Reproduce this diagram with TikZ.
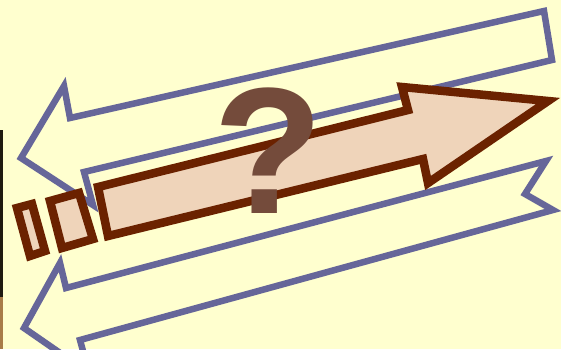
\documentclass[tikz,border=0pt]{standalone}
\usepackage{fontspec}
\setmainfont{Liberation Sans}
\usetikzlibrary{positioning}

\definecolor{bgyellow}{HTML}{FFFFCF}
\definecolor{arrowblue}{HTML}{666699}
\definecolor{darkbrown}{HTML}{6B2200}
\definecolor{lighttan}{HTML}{EFD4BA}
\definecolor{qbrown}{HTML}{744B3B}
\definecolor{edgedark}{HTML}{1E1A10}
\definecolor{edgetan}{HTML}{A87C48}

\tikzset{
  backarrow/.style={draw=arrowblue, line width=6.5pt, line join=miter},
  forwardarrow/.style={draw=darkbrown, fill=lighttan, line width=8.5pt, line join=miter},
  qmark/.style={text=qbrown, inner sep=0pt, font=\fontsize{180}{180}\selectfont\bfseries}
}

\begin{document}
\begin{tikzpicture}[x=1pt, y=-1pt]
    % Khung nen
    \useasboundingbox (0,0) rectangle (561,349);
    \clip (0,0) rectangle (561,349);
    \fill[bgyellow] (0,0) rectangle (561,349);

    % Dai mau o mep trai
    \fill[edgedark] (0,130) rectangle (2.7,297);
    \fill[edgetan] (0,297) rectangle (2.7,349);

    % Mui ten xanh phia tren (huong trai)
    \draw[backarrow] (21,158) -- (64,86) -- (70,118) -- (544,11) -- (552,60)
        -- (84,172) -- (93,205) -- cycle;

    % Mui ten xanh phia duoi (huong trai, duoi xe)
    \draw[backarrow] (24,328) -- (60,263) -- (66,288) -- (546,161) -- (525,194)
        -- (553,210) -- (80,340) -- (89,373) -- cycle;

    % Hai o nho phia sau
    \draw[forwardarrow] (17,208) -- (32,204) -- (45,251) -- (30,256) -- cycle;
    \draw[forwardarrow] (50,201) -- (79,193) -- (93,239) -- (62,248) -- cycle;

    % Mui ten nau (huong phai)
    \draw[forwardarrow] (98,187) -- (408,110) -- (402,87) -- (548,101)
        -- (428,183) -- (423,159) -- (108,236) -- cycle;

    % Dau hoi
    \node[qmark] (q) at (268,151) {?};
\end{tikzpicture}
\end{document}
